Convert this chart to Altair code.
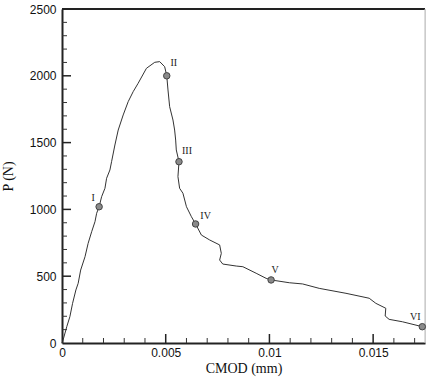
import altair as alt
import pandas as pd

# Curve (CMOD in mm, P in N)
cmod = [0.0, 0.00003, 0.00023, 0.00038, 0.00051, 0.00067, 0.00078, 0.00090, 0.00111, 0.00126,
        0.00143, 0.00159, 0.00167, 0.00179, 0.00191, 0.00207, 0.00215, 0.00231, 0.00239, 0.00255,
        0.00271, 0.00295, 0.00319, 0.00343, 0.00367, 0.00407, 0.00447, 0.00471, 0.00495, 0.00505,
        0.00511, 0.00519, 0.00535, 0.00543, 0.00548, 0.00551,
        0.00564, 0.00559, 0.00567, 0.00583, 0.00600, 0.00624, 0.00644, 0.00672, 0.00712, 0.00760,
        0.00768, 0.00760, 0.00775, 0.00840, 0.00872, 0.00936, 0.00984, 0.01008, 0.01096, 0.01160,
        0.01240, 0.01369, 0.01481, 0.01513, 0.01561, 0.01558, 0.01577, 0.01641, 0.01737]
load = [0, 10, 122, 197, 297, 397, 447, 546, 646, 746,
        833, 908, 971, 1020, 1095, 1158, 1233, 1295, 1357, 1482,
        1594, 1707, 1806, 1881, 1944, 2056, 2101, 2106, 2068, 2000,
        1894, 1769, 1669, 1594, 1519, 1445,
        1357, 1245, 1158, 1121, 1020, 945, 891, 808, 771, 734,
        671, 621, 591, 576, 571, 522, 484, 472, 451, 442,
        409, 372, 335, 297, 260, 202, 177, 159, 122]

# Marked stages
stage_labels = ["I", "II", "III", "IV", "V", "VI"]
stage_cmod = [0.00179, 0.00505, 0.00564, 0.00644, 0.01008, 0.01737]
stage_load = [1020, 2000, 1357, 891, 472, 122]

# Axis ticks
x_major = [0, 0.005, 0.01, 0.015]
x_minor = [0.001, 0.002, 0.003, 0.004, 0.006, 0.007, 0.008, 0.009,
           0.011, 0.012, 0.013, 0.014, 0.016, 0.017]
y_major = [0, 500, 1000, 1500, 2000, 2500]
y_minor = [v for v in range(100, 2500, 100) if v % 500 != 0]

XMAX = 0.0175
YMAX = 2500
W, H = 363, 334

curve = pd.DataFrame({"x": cmod, "y": load, "i": range(len(cmod))})
stages = pd.DataFrame({"x": stage_cmod, "y": stage_load, "label": stage_labels})

xs = alt.Scale(domain=[0, XMAX], nice=False, zero=False)
ys = alt.Scale(domain=[0, YMAX], nice=False, zero=False)

xaxis = alt.Axis(values=x_major, format="~g", title="CMOD (mm)", grid=False, ticks=False,
                 domainColor="#222", domainWidth=2, labelFont="Liberation Sans",
                 labelFontSize=12, labelColor="#111", labelPadding=4,
                 titleFont="Liberation Serif", titleFontSize=14, titleFontWeight="normal",
                 titleColor="#111", titlePadding=3, labelFlush=False)
yaxis = alt.Axis(values=y_major, format="d", title="P (N)", grid=False, ticks=False,
                 domainColor="#222", domainWidth=2, labelFont="Liberation Sans",
                 labelFontSize=12, labelColor="#111", labelPadding=6,
                 titleFont="Liberation Serif", titleFontSize=14, titleFontWeight="normal",
                 titleColor="#111", titlePadding=14, labelFlush=False)

line = alt.Chart(curve).mark_line(color="#333", strokeWidth=1).encode(
    x=alt.X("x:Q", scale=xs, axis=xaxis),
    y=alt.Y("y:Q", scale=ys, axis=yaxis),
    order="i:Q",
)

pts = alt.Chart(stages).mark_point(filled=True, size=42, color="#8a8a8a",
                                   stroke="#444", strokeWidth=1, opacity=1).encode(
    x=alt.X("x:Q", scale=xs), y=alt.Y("y:Q", scale=ys))

offsets = {"I": (-6, -9), "II": (7, -13), "III": (8, -11), "IV": (10, -8), "V": (4, -10), "VI": (-7, -10)}
label_layers = []
for lab in stage_labels:
    dx, dy = offsets[lab]
    label_layers.append(
        alt.Chart(stages).transform_filter(alt.datum.label == lab).mark_text(
            font="Liberation Serif", fontSize=10, color="#222", dx=dx, dy=dy,
            align="center", baseline="middle").encode(
            x=alt.X("x:Q", scale=xs), y=alt.Y("y:Q", scale=ys), text="label:N"))

xmaj = alt.Chart(pd.DataFrame({"v": x_major[1:]})).mark_rule(color="#222", strokeWidth=1.5).encode(
    x=alt.X("v:Q", scale=xs), y=alt.value(H), y2=alt.value(H - 9))
xmin = alt.Chart(pd.DataFrame({"v": x_minor})).mark_rule(color="#333", strokeWidth=1).encode(
    x=alt.X("v:Q", scale=xs), y=alt.value(H), y2=alt.value(H - 5))
ymaj = alt.Chart(pd.DataFrame({"v": y_major[1:]})).mark_rule(color="#222", strokeWidth=1.5).encode(
    y=alt.Y("v:Q", scale=ys), x=alt.value(0), x2=alt.value(9))
ymin = alt.Chart(pd.DataFrame({"v": y_minor})).mark_rule(color="#333", strokeWidth=1).encode(
    y=alt.Y("v:Q", scale=ys), x=alt.value(0), x2=alt.value(5))

top = alt.Chart(pd.DataFrame({"v": [YMAX]})).mark_rule(color="#222", strokeWidth=2).encode(
    y=alt.Y("v:Q", scale=ys), x=alt.value(0), x2=alt.value(W))
right = alt.Chart(pd.DataFrame({"v": [XMAX]})).mark_rule(color="#bbb", strokeWidth=1).encode(
    x=alt.X("v:Q", scale=xs), y=alt.value(0), y2=alt.value(H))

chart = alt.layer(xmin, xmaj, ymin, ymaj, top, right, line, pts, *label_layers).properties(
    width=W, height=H,
    autosize=alt.AutoSizeParams(type="none"),
    padding={"left": 62, "top": 9, "right": 2, "bottom": 38},
).configure_view(stroke=None).configure(background="white")

chart.save("out.html", embed_options={"renderer": "svg", "actions": False})
